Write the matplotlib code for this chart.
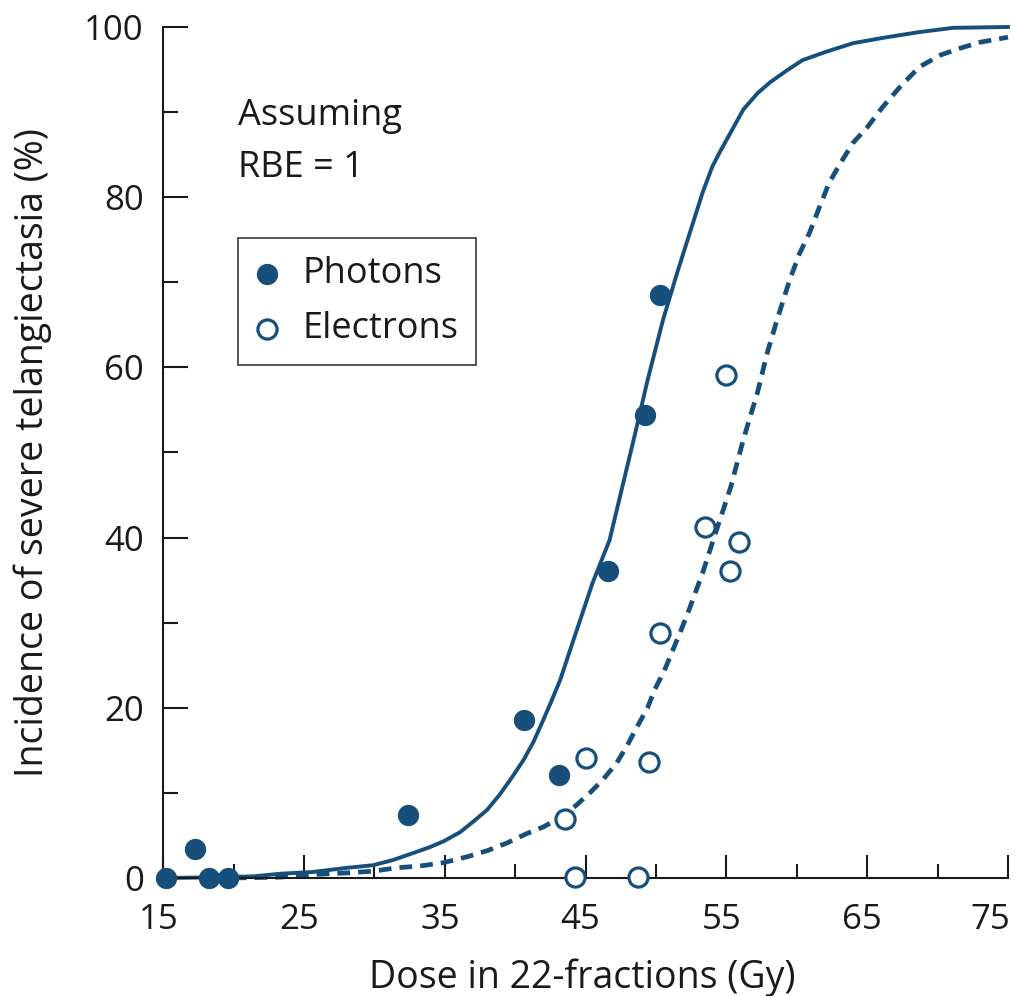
import matplotlib
matplotlib.use("Agg")
import matplotlib.pyplot as plt
import matplotlib.transforms as mtransforms
from matplotlib.ticker import MultipleLocator

plt.rcParams['font.family'] = ['Open Sans', 'DejaVu Sans']

blue = "#164f7b"
ink = "#1a1a1a"

# measured points
photon_dose = [15.2, 17.25, 18.25, 19.6, 32.4, 40.65, 43.1, 46.6, 49.25, 50.25]
photon_inc = [0.0, 3.4, 0.0, 0.0, 7.4, 18.6, 12.1, 36.1, 54.4, 68.5]

electron_dose = [43.55, 45.05, 44.25, 48.75, 49.5, 50.25, 53.45, 55.25, 55.9, 55.0]
electron_inc = [6.9, 14.1, 0.1, 0.1, 13.6, 28.8, 41.3, 36.1, 39.5, 59.1]

# fitted curves
photon_fit_x = [15.2, 19.6, 21.5, 23.3, 25.6, 28.1, 29.9, 31.3, 32.7, 33.9, 34.9, 36.1,
                37.0, 38.0, 38.9, 39.8, 40.6, 41.3, 42.0, 42.6, 43.2, 43.9, 45.5, 46.7,
                48.7, 49.4, 50.5, 51.5, 52.4, 53.3, 54.0, 54.5, 55.3, 56.2, 57.2, 58.1,
                59.3, 60.4, 62.1, 64.0, 66.4, 68.7, 71.1, 75.0]
photon_fit_y = [0.0, 0.1, 0.2, 0.5, 0.7, 1.2, 1.5, 2.1, 2.9, 3.6, 4.3, 5.4,
                6.6, 8.0, 9.8, 11.9, 13.9, 16.0, 18.6, 20.9, 23.3, 26.8, 34.7, 39.7,
                53.5, 58.5, 65.6, 71.1, 75.8, 80.5, 83.6, 85.2, 87.6, 90.3, 92.2, 93.5,
                94.9, 96.1, 97.1, 98.1, 98.8, 99.4, 99.9, 100.0]

electron_fit_x = [20.0, 23.3, 25.6, 28.1, 29.9, 31.6, 33.2, 34.9, 36.6, 38.0, 39.4, 40.8,
                  42.0, 43.2, 44.1, 45.3, 46.2, 47.2, 47.9, 48.6, 49.4, 49.9, 50.6, 51.2,
                  51.7, 52.3, 53.3, 54.3, 55.3, 56.2, 57.2, 57.9, 58.6, 59.5, 60.2, 60.9,
                  61.6, 62.3, 63.1, 64.0, 65.0, 66.1, 67.3, 68.7, 70.2, 71.6, 73.0, 75.0]
electron_fit_y = [0.0, 0.1, 0.4, 0.6, 0.8, 1.2, 1.4, 1.8, 2.5, 3.2, 4.1, 5.2,
                  6.0, 7.1, 8.2, 10.0, 11.5, 13.5, 15.4, 17.6, 20.0, 22.1, 24.4, 26.8,
                  28.8, 31.3, 35.8, 40.9, 45.9, 51.5, 57.0, 61.7, 65.6, 70.3, 73.4, 75.8,
                  78.8, 81.7, 84.0, 86.4, 88.2, 90.6, 92.9, 95.3, 96.7, 97.5, 98.2, 98.8]

x_ticks = [15, 25, 35, 45, 55, 65, 75]

fig = plt.figure(figsize=(10.16, 9.96), dpi=100)
ax = fig.add_axes([0.1607, 0.1185, 0.8314, 0.8544])

ax.plot(photon_fit_x, photon_fit_y, color=blue, lw=2.8, clip_on=False)
ax.plot(electron_fit_x, electron_fit_y, color=blue, lw=3.4, dashes=(2.7, 1.7),
        dash_capstyle='butt', clip_on=False)

ax.scatter(photon_dose, photon_inc, s=205, color=blue, zorder=3, clip_on=False,
           label="Photons")
ax.scatter(electron_dose, electron_inc, s=190, facecolor="white", edgecolor=blue,
           linewidth=2.3, zorder=3, clip_on=False, label="Electrons")

ax.set_xlim(15, 75)
ax.set_ylim(0, 100)
ax.set_xticks(x_ticks)
ax.xaxis.set_minor_locator(MultipleLocator(5))
ax.yaxis.set_major_locator(MultipleLocator(20))
ax.yaxis.set_minor_locator(MultipleLocator(10))

for s in ["top", "right"]:
    ax.spines[s].set_visible(False)
for s in ["left", "bottom"]:
    ax.spines[s].set_linewidth(1.5)
    ax.spines[s].set_color(ink)

ax.tick_params(axis="x", which="major", direction="in", length=16.5, width=1.5,
               pad=18, labelsize=25, colors=ink)
ax.tick_params(axis="x", which="minor", direction="in", length=10, width=1.5, colors=ink)
ax.tick_params(axis="y", which="major", direction="in", length=18, width=1.5,
               pad=14, labelsize=25, colors=ink)
ax.tick_params(axis="y", which="minor", direction="in", length=11, width=1.5, colors=ink)

# the labels sit a little left of their ticks, the last one tucked in
shift = mtransforms.ScaledTranslation(-0.05, 0, fig.dpi_scale_trans)
labels = ax.get_xticklabels()
for lab in labels:
    lab.set_transform(lab.get_transform() + shift)
labels[-1].set_horizontalalignment("right")
labels[-1].set_transform(labels[-1].get_transform()
                         + mtransforms.ScaledTranslation(0.07, 0, fig.dpi_scale_trans))

ax.set_xlabel("Dose in 22-fractions (Gy)", fontsize=27, color=ink)
ax.xaxis.set_label_coords(0.496, -0.094)
ax.set_ylabel("Incidence of severe telangiectasia (%)", fontsize=27, color=ink)
ax.yaxis.set_label_coords(-0.132, 0.5)

ax.text(0.0884, 0.8848, "Assuming", transform=ax.transAxes, fontsize=26,
        color=ink, va="baseline", ha="left")
ax.text(0.0884, 0.8237, "RBE = 1", transform=ax.transAxes, fontsize=26,
        color=ink, va="baseline", ha="left")

leg = ax.legend(loc="upper left", bbox_to_anchor=(0.0884, 0.752), borderaxespad=0,
                fontsize=26, frameon=True, fancybox=False, handletextpad=0.68,
                borderpad=0.5, labelspacing=0.53, handlelength=0.6, scatterpoints=1)
leg.get_frame().set_edgecolor(ink)
leg.get_frame().set_linewidth(1.3)
for t in leg.get_texts():
    t.set_color(ink)

plt.savefig("out.png", dpi=100)
